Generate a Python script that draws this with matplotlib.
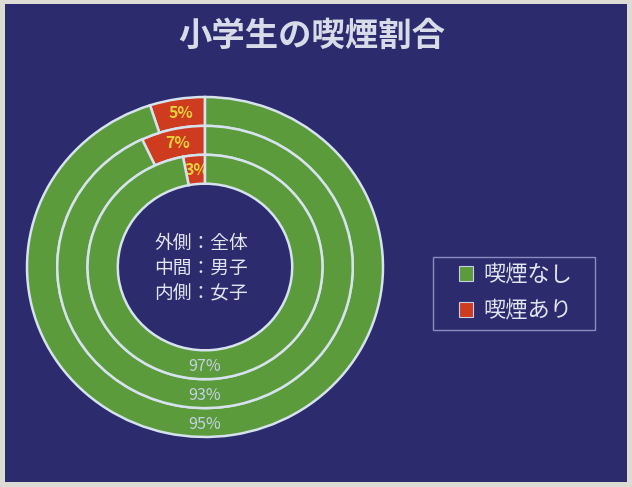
import numpy as np
import matplotlib
matplotlib.use("Agg")
import matplotlib.pyplot as plt
from matplotlib.patches import Rectangle, Patch

plt.rcParams["font.family"] = ["Noto Sans CJK JP", "DejaVu Sans"]

# 小学生の喫煙割合 (%): outer = 全体, middle = 男子, inner = 女子
categories = ["喫煙なし", "喫煙あり"]
ring_names = ["全体", "男子", "女子"]
no_smoke = [95, 93, 97]
smoke = [5, 7, 3]
center_lines = ["外側：全体", "中間：男子", "内側：女子"]
title = "小学生の喫煙割合"

NAVY = "#2b2b6e"
GREEN = "#5c9b3b"
RED = "#cf3b1e"
EDGE = "#d6e2ee"

W, H = 632, 487
fig = plt.figure(figsize=(W / 100, H / 100), dpi=100, facecolor="#dcdcd4")
# navy slide panel inside the light frame
fig.patches.append(Rectangle((5 / W, 5 / H), 622 / W, 478 / H,
                             transform=fig.transFigure, facecolor=NAVY,
                             edgecolor="none", zorder=-10))

fig.text(312 / W, 1 - 36 / H, title, ha="center", va="center",
         fontsize=24, color="#d8dce8", fontweight="bold")

# pie sits in a slightly stretched box (ellipse like the slide)
cx, cy, rx, ry = 205, 267, 178, 170
ax = fig.add_axes([(cx - rx) / W, (H - cy - ry) / H, 2 * rx / W, 2 * ry / H])
ax.set_facecolor("none")

radii = [1.0, 0.83, 0.66]
width = 0.17
for i, r in enumerate(radii):
    vals = [no_smoke[i], smoke[i]]
    wedges, _ = ax.pie(vals, radius=r, startangle=90, counterclock=False,
                       colors=[GREEN, RED],
                       wedgeprops=dict(width=width, edgecolor=EDGE, linewidth=1.8))
    # red wedge and its label sit under the green wedge, so a label
    # wider than its slice gets covered
    wedges[1].set_zorder(0.5)
    rm = r - width / 2
    w = wedges[1]
    ang = np.deg2rad((w.theta1 + w.theta2) / 2)
    ax.text(rm * np.cos(ang) + 0.01, rm * np.sin(ang), f"{smoke[i]}%",
            ha="center", va="center", fontsize=11.5, color="#e8d23c",
            fontweight="bold", zorder=0.8)
    # green share: at the bottom of the ring
    ax.text(0, -rm - 0.01, f"{no_smoke[i]}%", ha="center", va="center",
            fontsize=11.5, color="#c4d2e4", zorder=3)

ax.set_aspect("auto")
ax.set_xlim(-1, 1)
ax.set_ylim(-1, 1)
ax.axis("off")

for k, line in enumerate(center_lines):
    ax.text(-0.02, 0.14 - k * 0.15, line, ha="center", va="center",
            fontsize=13.5, color="#e2e6f0")

# legend box drawn separately so the side padding can be wider than the top
fig.patches.append(Rectangle((433 / W, 1 - 330 / H), 162 / W, 73 / H,
                             transform=fig.transFigure, facecolor="none",
                             edgecolor="#8c8cc0", linewidth=1.0, zorder=1))
handles = [Patch(facecolor=GREEN, edgecolor="#c8d0e0", linewidth=0.8),
           Patch(facecolor=RED, edgecolor="#c8d0e0", linewidth=0.8)]
leg = fig.legend(handles, categories, loc="center left",
                 bbox_to_anchor=(452 / W, 1 - 293 / H), borderaxespad=0,
                 fontsize=16, frameon=False, labelcolor="#e2e6f0",
                 handlelength=0.65, handleheight=0.65, handletextpad=0.45,
                 labelspacing=0.6, borderpad=0.3)

fig.savefig("out.png", dpi=100, facecolor=fig.get_facecolor())
